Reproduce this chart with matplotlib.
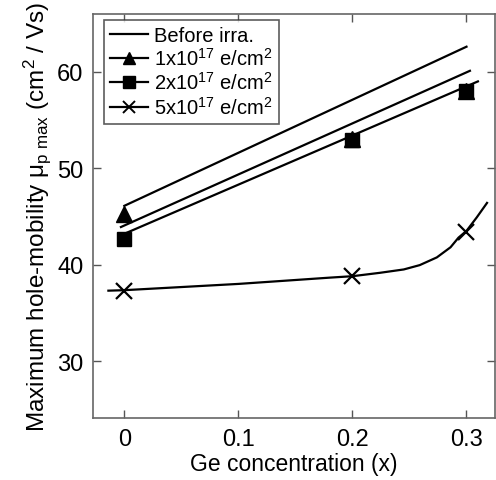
import matplotlib
matplotlib.use("Agg")
import matplotlib.pyplot as plt

plt.rcParams['font.family'] = ['Liberation Sans', 'DejaVu Sans']
plt.rcParams['mathtext.fontset'] = 'custom'
plt.rcParams['mathtext.rm'] = 'Liberation Sans'
plt.rcParams['mathtext.it'] = 'Liberation Sans:italic'
plt.rcParams['mathtext.bf'] = 'Liberation Sans:bold'

# Fitted lines
before_x = [0.0, 0.30]
before_y = [46.1, 62.6]
fit1_x = [-0.003, 0.303]
fit1_y = [43.9, 60.1]
fit2_x = [0.0, 0.31]
fit2_y = [43.2, 59.0]

# Measured points
tri_x = [0.0, 0.2, 0.3]
tri_y = [45.3, 53.0, 58.0]
sq_x = [0.0, 0.2, 0.3]
sq_y = [42.7, 52.9, 58.0]
cross_x = [0.0, 0.2, 0.3]
cross_y = [37.3, 38.8, 43.4]

# Curve through 5x10^17 points
curve_x = [-0.014, 0.0, 0.1, 0.18, 0.2, 0.224, 0.245, 0.259, 0.274, 0.286, 0.293, 0.3, 0.309, 0.318]
curve_y = [37.3, 37.35, 38.0, 38.65, 38.8, 39.15, 39.5, 39.95, 40.75, 41.8, 42.8, 43.5, 44.9, 46.4]

xticks = [0, 0.1, 0.2, 0.3]
xtick_labels = ['0', '0.1', '0.2', '0.3']
yticks = [30, 40, 50, 60]

fig = plt.figure(figsize=(4.96, 4.81), dpi=100)
ax = fig.add_axes([0.1875, 0.129, 0.8105, 0.840])

lw = 1.6
ax.plot(before_x, before_y, color='black', lw=lw)
ax.plot(fit1_x, fit1_y, color='black', lw=lw)
ax.plot(fit2_x, fit2_y, color='black', lw=lw)
ax.plot(tri_x, tri_y, ls='none', marker='^', ms=11, color='black')
ax.plot(sq_x, sq_y, ls='none', marker='s', ms=10.5, color='black')
ax.plot(curve_x, curve_y, color='black', lw=lw, solid_joinstyle='round')
ax.plot(cross_x, cross_y, ls='none', marker='x', ms=11, mew=1.6, color='black')

# legend proxies
h0, = ax.plot([], [], color='black', lw=lw, label='Before irra.')
h1, = ax.plot([], [], color='black', lw=lw, marker='^', ms=9, label='1x10$^{17}$ e/cm$^2$')
h2, = ax.plot([], [], color='black', lw=lw, marker='s', ms=9, label='2x10$^{17}$ e/cm$^2$')
h3, = ax.plot([], [], color='black', lw=lw, marker='x', ms=8, mew=1.4, label='5x10$^{17}$ e/cm$^2$')
leg = ax.legend(handles=[h0, h1, h2, h3], loc='upper left', fontsize=14.5,
                bbox_to_anchor=(0.0274, 0.986), borderaxespad=0,
                frameon=True, fancybox=False, edgecolor='#333333',
                handlelength=1.9, handletextpad=0.3,
                labelspacing=0.12, borderpad=0.3)
leg.get_frame().set_linewidth(1.2)

ax.set_xlim(-0.0275, 0.325)
ax.set_ylim(24.1, 66.0)
ax.set_xticks(xticks)
ax.set_xticklabels(xtick_labels)
ax.set_yticks(yticks)
ax.tick_params(direction='in', length=6, width=1.0, top=True, right=True,
               labelsize=17, color='#555555', pad=7)
for s in ax.spines.values():
    s.set_color('#666666')
    s.set_linewidth(1.2)

ax.set_xlabel('Ge concentration (x)', fontsize=16.5, labelpad=2)
ax.set_ylabel('Maximum hole-mobility μ$_{\\mathrm{p\\ max}}$ (cm$^2$ / Vs)', fontsize=17.5, labelpad=3)

fig.savefig('out.png', dpi=100)
